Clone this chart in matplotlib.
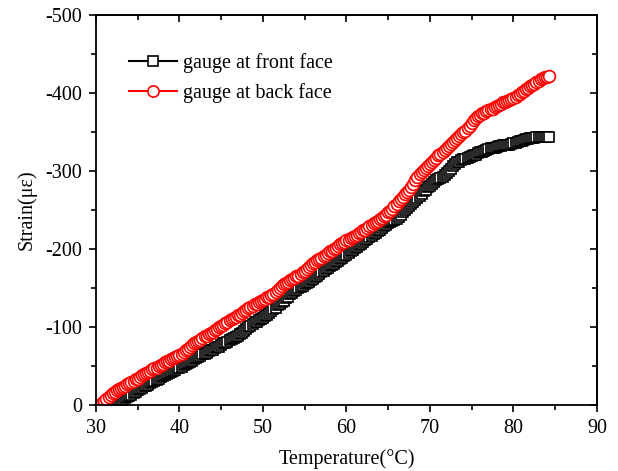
import matplotlib
matplotlib.use("Agg")
import matplotlib.pyplot as plt
from matplotlib.ticker import MultipleLocator

plt.rcParams['font.family'] = ['Liberation Serif', 'DejaVu Serif']
plt.rcParams['axes.unicode_minus'] = False

# gauge at front face (temperature in °C, strain in microstrain)
front_x = [32.2, 32.5, 32.75, 33.0, 33.25, 33.5, 33.75, 34.0, 34.25, 34.5, 34.75, 35.0, 35.25, 35.5, 35.75,
           36.0, 36.25, 36.5, 36.75, 37.0, 37.25, 37.5, 37.75, 38.0, 38.25, 38.5, 38.75, 39.0, 39.25, 39.5,
           39.75, 40.0, 40.25, 40.5, 40.75, 41.0, 41.25, 41.5, 41.75, 42.0, 42.25, 42.5, 42.75, 43.0, 43.25,
           43.5, 43.75, 44.0, 44.25, 44.5, 44.75, 45.0, 45.25, 45.5, 45.75, 46.0, 46.25, 46.5, 46.75, 47.0,
           47.25, 47.5, 47.75, 48.0, 48.25, 48.5, 48.75, 49.0, 49.25, 49.5, 49.75, 50.0, 50.25, 50.5, 50.75,
           51.0, 51.25, 51.5, 51.75, 52.0, 52.25, 52.5, 52.75, 53.0, 53.25, 53.5, 53.75, 54.0, 54.25, 54.5,
           54.75, 55.0, 55.25, 55.5, 55.75, 56.0, 56.25, 56.5, 56.75, 57.0, 57.25, 57.5, 57.75, 58.0, 58.25,
           58.5, 58.75, 59.0, 59.25, 59.5, 59.75, 60.0, 60.25, 60.5, 60.75, 61.0, 61.25, 61.5, 61.75, 62.0,
           62.25, 62.5, 62.75, 63.0, 63.25, 63.5, 63.75, 64.0, 64.25, 64.5, 64.75, 65.0, 65.25, 65.5, 65.75,
           66.0, 66.25, 66.5, 66.75, 67.0, 67.25, 67.5, 67.75, 68.0, 68.25, 68.5, 68.75, 69.0, 69.25, 69.5,
           69.75, 70.0, 70.25, 70.5, 70.75, 71.0, 71.25, 71.5, 71.75, 72.0, 72.25, 72.5, 72.75, 73.0, 73.25,
           73.5, 73.75, 74.0, 74.25, 74.5, 74.75, 75.0, 75.25, 75.5, 75.75, 76.0, 76.25, 76.5, 76.75, 77.0,
           77.25, 77.5, 77.75, 78.0, 78.25, 78.5, 78.75, 79.0, 79.25, 79.5, 79.75, 80.0, 80.25, 80.5, 80.75,
           81.0, 81.25, 81.5, 81.75, 82.0, 82.25, 82.5, 82.75, 83.0, 83.25, 83.5, 83.75, 84.0, 84.2]
front_y = [0, -2, -3, -5, -7, -9, -10, -12, -13, -15, -17, -19, -20, -22, -24,
           -25, -26, -28, -30, -31, -32, -34, -36, -37, -38, -40, -41, -42, -44, -45,
           -47, -48, -49, -51, -53, -54, -55, -57, -59, -60, -61, -63, -65, -66, -67,
           -69, -70, -71, -73, -74, -75, -77, -79, -80, -81, -83, -85, -86, -87, -89,
           -91, -93, -95, -97, -100, -102, -104, -106, -107, -109, -110, -112, -114, -116, -118,
           -120, -123, -125, -128, -130, -132, -134, -137, -139, -142, -144, -146, -148, -150, -151,
           -153, -155, -156, -158, -160, -162, -164, -166, -168, -170, -172, -174, -176, -178, -179,
           -181, -183, -185, -187, -189, -191, -193, -195, -197, -199, -201, -203, -205, -207, -209,
           -211, -213, -215, -217, -219, -221, -223, -225, -227, -229, -231, -233, -235, -236, -237,
           -239, -241, -244, -247, -250, -253, -255, -258, -260, -263, -265, -268, -271, -274, -276,
           -279, -281, -284, -286, -288, -290, -291, -293, -295, -297, -300, -303, -306, -309, -311,
           -312, -314, -315, -316, -317, -318, -319, -320, -321, -323, -324, -325, -326, -327, -328,
           -329, -330, -330, -331, -332, -332, -333, -333, -334, -334, -335, -336, -336, -337, -338,
           -339, -340, -341, -341, -342, -343, -343, -344, -344, -344, -344, -344, -344, -344]

# gauge at back face
back_x = [30.5, 30.75, 31.0, 31.25, 31.5, 31.75, 32.0, 32.25, 32.5, 32.75, 33.0, 33.25, 33.5, 33.75, 34.0,
          34.25, 34.5, 34.75, 35.0, 35.25, 35.5, 35.75, 36.0, 36.25, 36.5, 36.75, 37.0, 37.25, 37.5, 37.75,
          38.0, 38.25, 38.5, 38.75, 39.0, 39.25, 39.5, 39.75, 40.0, 40.25, 40.5, 40.75, 41.0, 41.25, 41.5,
          41.75, 42.0, 42.25, 42.5, 42.75, 43.0, 43.25, 43.5, 43.75, 44.0, 44.25, 44.5, 44.75, 45.0, 45.25,
          45.5, 45.75, 46.0, 46.25, 46.5, 46.75, 47.0, 47.25, 47.5, 47.75, 48.0, 48.25, 48.5, 48.75, 49.0,
          49.25, 49.5, 49.75, 50.0, 50.25, 50.5, 50.75, 51.0, 51.25, 51.5, 51.75, 52.0, 52.25, 52.5, 52.75,
          53.0, 53.25, 53.5, 53.75, 54.0, 54.25, 54.5, 54.75, 55.0, 55.25, 55.5, 55.75, 56.0, 56.25, 56.5,
          56.75, 57.0, 57.25, 57.5, 57.75, 58.0, 58.25, 58.5, 58.75, 59.0, 59.25, 59.5, 59.75, 60.0, 60.25,
          60.5, 60.75, 61.0, 61.25, 61.5, 61.75, 62.0, 62.25, 62.5, 62.75, 63.0, 63.25, 63.5, 63.75, 64.0,
          64.25, 64.5, 64.75, 65.0, 65.25, 65.5, 65.75, 66.0, 66.25, 66.5, 66.75, 67.0, 67.25, 67.5, 67.75,
          68.0, 68.25, 68.5, 68.75, 69.0, 69.25, 69.5, 69.75, 70.0, 70.25, 70.5, 70.75, 71.0, 71.25, 71.5,
          71.75, 72.0, 72.25, 72.5, 72.75, 73.0, 73.25, 73.5, 73.75, 74.0, 74.25, 74.5, 74.75, 75.0, 75.25,
          75.5, 75.75, 76.0, 76.25, 76.5, 76.75, 77.0, 77.25, 77.5, 77.75, 78.0, 78.25, 78.5, 78.75, 79.0,
          79.25, 79.5, 79.75, 80.0, 80.25, 80.5, 80.75, 81.0, 81.25, 81.5, 81.75, 82.0, 82.25, 82.5, 82.75,
          83.0, 83.25, 83.5, 83.75, 84.0, 84.2]
back_y = [0, -3, -5, -8, -10, -13, -15, -17, -19, -20, -22, -23, -25, -27, -28,
          -29, -31, -33, -34, -36, -38, -40, -41, -42, -44, -46, -47, -48, -50, -52,
          -53, -55, -56, -57, -59, -60, -61, -63, -64, -66, -68, -70, -72, -75, -77,
          -79, -81, -82, -84, -86, -88, -89, -91, -92, -94, -96, -98, -100, -102, -103,
          -105, -107, -109, -110, -112, -113, -115, -116, -118, -120, -122, -124, -126, -127, -129,
          -130, -132, -133, -135, -136, -138, -139, -141, -143, -145, -148, -150, -153, -155, -157,
          -158, -160, -162, -163, -165, -166, -168, -170, -172, -175, -177, -180, -182, -184, -186,
          -187, -189, -191, -193, -195, -197, -198, -200, -202, -204, -206, -208, -209, -211, -212,
          -214, -215, -217, -218, -220, -222, -224, -225, -227, -229, -231, -233, -235, -236, -238,
          -240, -242, -244, -247, -249, -252, -255, -258, -261, -264, -267, -270, -273, -276, -280,
          -284, -289, -293, -296, -299, -302, -304, -306, -309, -311, -314, -317, -320, -322, -325,
          -327, -330, -332, -335, -337, -340, -342, -345, -347, -350, -352, -355, -358, -361, -365,
          -368, -370, -372, -374, -375, -377, -378, -379, -380, -382, -383, -385, -386, -388, -389,
          -390, -391, -393, -394, -395, -397, -399, -401, -403, -405, -407, -409, -410, -412, -414,
          -416, -418, -419, -420, -421, -422]

x_ticks = [30, 40, 50, 60, 70, 80, 90]
y_ticks = [0, -100, -200, -300, -400, -500]

fig = plt.figure(figsize=(6.18, 4.71), dpi=100)
ax = fig.add_axes([0.1553, 0.140, 0.8107, 0.828])

ax.plot(front_x, front_y, '-', color='black', marker='s', markersize=7,
        markerfacecolor='white', markeredgecolor='black', markeredgewidth=1.2,
        linewidth=1.5, label='gauge at front face')
ax.plot(back_x, back_y, '-', color='red', marker='o', markersize=8.5,
        markerfacecolor='white', markeredgecolor='red', markeredgewidth=1.2,
        linewidth=1.5, label='gauge at back face')

ax.set_xlim(30, 90)
ax.set_ylim(0, -500)
ax.set_xticks(x_ticks)
ax.set_yticks(y_ticks)
ax.xaxis.set_minor_locator(MultipleLocator(5))
ax.yaxis.set_minor_locator(MultipleLocator(50))
ax.tick_params(which='both', direction='out', labelsize=14.5, width=1.2)
ax.tick_params(which='major', length=5, pad=5)
ax.tick_params(which='minor', length=3.5)
for s in ax.spines.values():
    s.set_linewidth(1.3)

secx = ax.secondary_xaxis('top')
secx.set_xticks(x_ticks)
secx.xaxis.set_minor_locator(MultipleLocator(5))
secx.tick_params(which='both', direction='in', labeltop=False, width=1.2)
secx.tick_params(which='major', length=5)
secx.tick_params(which='minor', length=3.5)
secx.spines['top'].set_linewidth(1.3)

secy = ax.secondary_yaxis('right')
secy.set_yticks(y_ticks)
secy.yaxis.set_minor_locator(MultipleLocator(50))
secy.tick_params(which='both', direction='in', labelright=False, width=1.2)
secy.tick_params(which='major', length=5)
secy.tick_params(which='minor', length=3.5)
secy.spines['right'].set_linewidth(1.3)

ax.set_xlabel('Temperature(°C)', fontsize=14.5, labelpad=8)
ax.set_ylabel('Strain(με)', fontsize=14.5, labelpad=6)

ax.legend(loc='upper left', bbox_to_anchor=(0.065, 0.902), frameon=False, fontsize=14.5,
          handlelength=2.4, handletextpad=0.3, labelspacing=0.5, borderaxespad=0.0,
          borderpad=0.0, markerscale=0.95)

fig.savefig('out.png', dpi=100)
